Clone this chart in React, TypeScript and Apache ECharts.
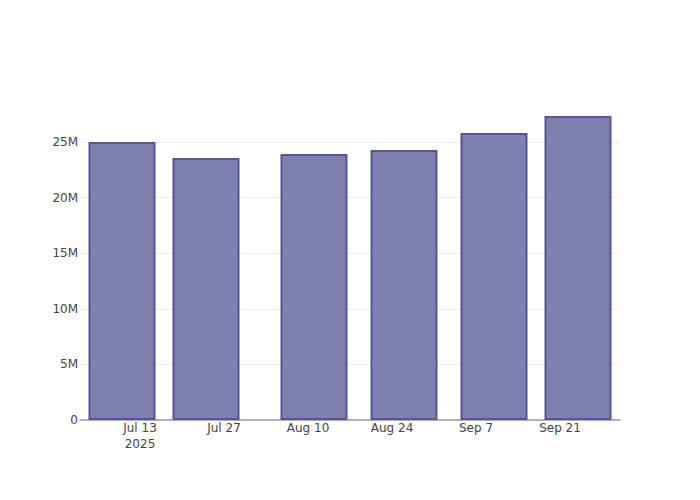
import React, { useEffect, useRef } from "react";
import * as echarts from "echarts";

const barDates = ["2025-07-10", "2025-07-24", "2025-08-11", "2025-08-26", "2025-09-10", "2025-09-24"];
const barValues = [25.0e6, 23.56e6, 23.92e6, 24.28e6, 25.81e6, 27.34e6];
const xTickDates = ["2025-07-13", "2025-07-27", "2025-08-10", "2025-08-24", "2025-09-07", "2025-09-21"];
const xTickLabels = ["Jul 13\n2025", "Jul 27", "Aug 10", "Aug 24", "Sep 7", "Sep 21"];
const yTickValues = [0, 5e6, 10e6, 15e6, 20e6, 25e6];
const yTickLabels = ["0", "5M", "10M", "15M", "20M", "25M"];
const xRange = ["2025-07-03", "2025-10-01"];
const yMax = 28.78e6;

function ts(d: string): number {
  const [y, m, day] = d.split("-").map(Number);
  return Date.UTC(y, m - 1, day);
}

export default function App() {
  const ref = useRef<HTMLDivElement>(null);
  useEffect(() => {
    if (!ref.current) return;
    const chart = echarts.init(ref.current, null, { renderer: "svg" });
    const xTicks = xTickDates.map(ts);
    chart.setOption({
      animation: false,
      backgroundColor: "#fff",
      grid: { left: 80, right: 80, top: 100, bottom: 80, containLabel: false },
      xAxis: {
        type: "value",
        min: ts(xRange[0]),
        max: ts(xRange[1]),
        scale: true,
        axisLine: { show: true, onZero: false, lineStyle: { color: "#9a9a9a", width: 1.5 } },
        axisTick: { show: false, customValues: xTicks },
        splitLine: { show: false },
        axisLabel: {
          customValues: xTicks,
          color: "#444",
          fontSize: 12,
          fontFamily: "DejaVu Sans",
          lineHeight: 16,
          margin: 0,
          formatter: (v: number) => {
            const i = xTicks.indexOf(v);
            return i >= 0 ? xTickLabels[i] : "";
          },
        },
      },
      yAxis: {
        type: "value",
        min: 0,
        max: yMax,
        axisLine: { show: false },
        axisTick: { show: false, customValues: yTickValues },
        splitLine: { show: true, lineStyle: { color: "#eeeeee", width: 1 } },
        axisLabel: {
          customValues: yTickValues,
          color: "#444",
          fontSize: 12,
          fontFamily: "DejaVu Sans",
          margin: 2,
          formatter: (v: number) => {
            const i = yTickValues.indexOf(v);
            return i >= 0 ? yTickLabels[i] : "";
          },
        },
      },
      series: [
        {
          type: "bar",
          barWidth: 67,
          data: barDates.map((d, i) => [ts(d), barValues[i]]),
          itemStyle: {
            color: "rgb(127,127,176)",
            borderColor: "#55559a",
            borderWidth: 2,
          },
        },
      ],
    });
    return () => chart.dispose();
  }, []);
  return <div ref={ref} style={{ width: 700, height: 500, margin: -8 }} />;
}
